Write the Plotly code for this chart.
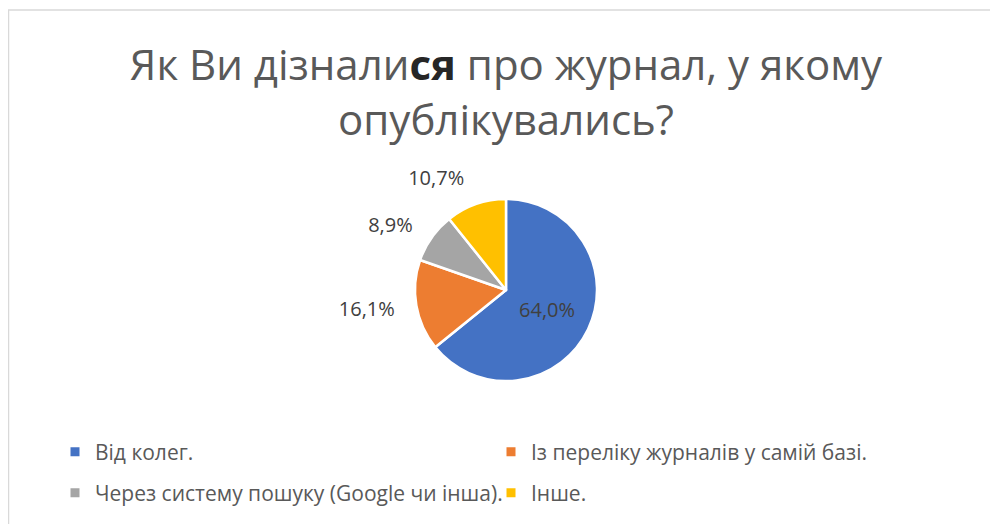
import plotly.graph_objects as go

categories = ["Від колег.", "Із переліку журналів у самій базі.",
              "Через систему пошуку (Google чи інша).", "Інше."]
values = [64.0, 16.1, 8.9, 10.7]
colors = ["#4472C4", "#ED7D31", "#A5A5A5", "#FFC000"]
title_line1 = "Як Ви дізнали<span style='color:#262626'><b>ся</b></span> про журнал, у якому"
title_line2 = "опублікувались?"

# page has an 8px body margin: figure drawn at (8,8)
OFF = 8
W, H = 998 - OFF, 524 - OFF
cx, cy, r = 506 - OFF, 290 - OFF, 91
r_lab = r + 15  # invisible ring that carries the outside labels


def dom(rad):
    return dict(x=[(cx - rad) / W, (cx + rad) / W], y=[1 - (cy + rad) / H, 1 - (cy - rad) / H])


label_font = dict(size=20, color="#404040", family="Open Sans")

fig = go.Figure()
# invisible larger pie: outside labels only
fig.add_trace(go.Pie(
    labels=categories, values=values, sort=False, direction="clockwise", rotation=0,
    marker=dict(colors=["rgba(0,0,0,0)"] * 4, line=dict(width=0)),
    texttemplate="%{value:.1f}%",
    textposition=["none", "outside", "outside", "outside"],
    textfont=label_font,
    showlegend=False, hoverinfo="skip",
    domain=dom(r_lab),
))
# visible pie
fig.add_trace(go.Pie(
    labels=categories, values=values, sort=False, direction="clockwise", rotation=0,
    marker=dict(colors=colors, line=dict(color="white", width=2.5)),
    texttemplate="%{value:.1f}%",
    textposition=["inside", "none", "none", "none"],
    textfont=label_font,
    insidetextorientation="horizontal",
    showlegend=False, hoverinfo="label+value",
    domain=dom(r),
))

# legend entries (two rows)
for i, (c, col) in enumerate(zip(categories, colors)):
    fig.add_trace(go.Scatter(
        x=[None], y=[None], mode="markers", name=c,
        marker=dict(symbol="square", size=9, color=col),
        legend="legend" if i < 2 else "legend2",
    ))

legend_common = dict(orientation="h", xanchor="left", yanchor="middle",
                     font=dict(size=21, color="#595959", family="Open Sans"),
                     entrywidth=391, entrywidthmode="pixels", itemwidth=30,
                     bgcolor="rgba(0,0,0,0)")

fig.update_layout(
    width=W, height=H,
    separators=", ",
    margin=dict(l=0, r=0, t=0, b=0),
    paper_bgcolor="white", plot_bgcolor="white",
    xaxis=dict(visible=False), yaxis=dict(visible=False),
    title=dict(text=title_line1 + "<br>" + title_line2, x=(506 - OFF) / W, xanchor="center",
               yref="container", y=1 - 72 / H, yanchor="top",
               font=dict(size=42, color="#595959", family="Open Sans")),
    legend=dict(x=(55 - OFF) / W, y=1 - (452 - OFF) / H, **legend_common),
    legend2=dict(x=(55 - OFF) / W, y=1 - (493 - OFF) / H, **legend_common),
    shapes=[dict(type="rect", xref="paper", yref="paper",
                 x0=0.5 / W, x1=1.05, y0=-0.05, y1=1 - 2 / H,
                 line=dict(color="#D9D9D9", width=1.5), fillcolor="rgba(0,0,0,0)")],
)

fig.write_html("out.html")
